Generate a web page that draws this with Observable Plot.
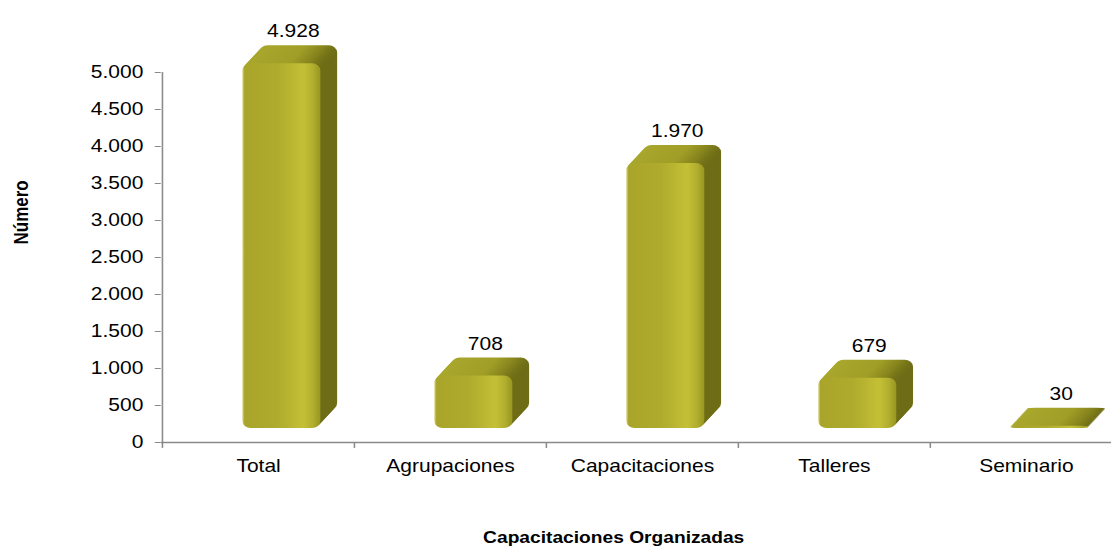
<!DOCTYPE html>
<html>
<head>
<meta charset="utf-8">
<script src="https://cdn.jsdelivr.net/npm/d3@7"></script>
<script src="https://cdn.jsdelivr.net/npm/@observablehq/plot@0.6"></script>
<style>
  html, body { margin: 0; padding: 0; background: #ffffff; overflow: hidden; }
  #chart svg { font-family: "Liberation Sans", Arial, sans-serif; }
</style>
</head>
<body>
<svg width="0" height="0" style="position:absolute">
  <defs>
    <linearGradient id="gFront" x1="0" x2="1" y1="0" y2="0">
      <stop offset="0" stop-color="#d6d38a"/>
      <stop offset="0.03" stop-color="#a8a52a"/>
      <stop offset="0.45" stop-color="#afab2d"/>
      <stop offset="0.78" stop-color="#c4c036"/>
      <stop offset="0.9" stop-color="#b3af2f"/>
      <stop offset="1" stop-color="#999623"/>
    </linearGradient>
    <linearGradient id="gSide" x1="0" x2="1" y1="0" y2="0">
      <stop offset="0" stop-color="#a9a72c"/>
      <stop offset="0.6" stop-color="#a09e27"/>
      <stop offset="0.85" stop-color="#85831c"/>
      <stop offset="1" stop-color="#6d6c16"/>
    </linearGradient>
  </defs>
</svg>
<div id="chart"></div>
<script>
// ---- data ----
const categories = ["Total", "Agrupaciones", "Capacitaciones", "Talleres", "Seminario"];
const barHeights = [4928, 708, 3580, 679, 30];
const valueLabels = ["4.928", "708", "1.970", "679", "30"];
const yTicks = [0, 500, 1000, 1500, 2000, 2500, 3000, 3500, 4000, 4500, 5000];
const yTickLabels = ["0", "500", "1.000", "1.500", "2.000", "2.500", "3.000", "3.500", "4.000", "4.500", "5.000"];
const xTitle = "Capacitaciones Organizadas";
const yTitle = "Número";

const rows = categories.map((c, i) => ({cat: c, value: barHeights[i], label: valueLabels[i]}));
const yLabelMap = new Map(yTicks.map((t, i) => [t, yTickLabels[i]]));

// ---- layout (internal units; svg is stretched horizontally) ----
const W = 926, H = 552, OUTW = 1111;
const mL = 134, xEnd = 935;
const half = (xEnd - mL) / categories.length / 2;
const axisGray = "#8a8a8a";
const inL = 67, inR = 28, depthX = 14, depthY = 18, lift = 14;

const depthMarks = d3.range(depthY, 0, -1).map(k =>
  Plot.barY(rows, {x: "cat", y: "value", insetLeft: inL, insetRight: inR,
    dx: depthX * k / depthY, dy: -lift - k, fill: "url(#gSide)", rx: 7})
);

const chart = Plot.plot({
  width: W,
  height: H,
  marginTop: 72,
  marginBottom: 110,
  marginLeft: mL,
  marginRight: 0,
  style: {fontFamily: "'Liberation Sans', Arial, sans-serif", background: "#ffffff"},
  x: {domain: categories, range: [mL, xEnd], padding: 0, axis: null},
  y: {domain: [0, 5000], axis: null},
  marks: [
    // axes lines and ticks
    Plot.ruleY([0], {stroke: axisGray, strokeWidth: 1.5}),
    Plot.ruleX([categories[0]], {x: d => d, dx: -half, y1: 0, y2: 5000, stroke: axisGray, strokeWidth: 1.3}),
    Plot.ruleX(categories, {x: d => d, dx: -half, y1: 0, y2: -80, stroke: axisGray, strokeWidth: 1.3}),
    Plot.axisY({ticks: yTicks, tickFormat: d => yLabelMap.get(d), tickSize: 5, tickPadding: 10,
      fontSize: 17.5, stroke: axisGray, fill: "#000", label: null}),
    Plot.axisX({tickSize: 0, tickPadding: 17, fontSize: 17.5, fill: "#000", label: null}),
    // 3D depth (top + side faces)
    ...depthMarks,
    // front faces
    Plot.barY(rows, {x: "cat", y: "value", insetLeft: inL, insetRight: inR, dy: -lift,
      fill: "url(#gFront)", rx: 7}),
    // value labels
    Plot.text(rows, {x: "cat", y: "value", text: "label", dx: 29, dy: -46, fontSize: 17.5, fill: "#000"}),
    // titles
    Plot.text([xTitle], {text: d => d, frameAnchor: "bottom", dx: -19, dy: 100,
      fontSize: 16, fontWeight: "bold", fill: "#000"}),
    Plot.text([yTitle], {text: d => d, frameAnchor: "left", dx: -117, dy: -13, rotate: -90,
      fontSize: 17, fontWeight: "bold", fill: "#000"})
  ]
});

chart.setAttribute("width", OUTW);
chart.setAttribute("height", H);
chart.setAttribute("preserveAspectRatio", "none");
chart.style.width = OUTW + "px";
chart.style.height = H + "px";
chart.style.maxWidth = "none";
document.getElementById("chart").appendChild(chart);
</script>
</body>
</html>
